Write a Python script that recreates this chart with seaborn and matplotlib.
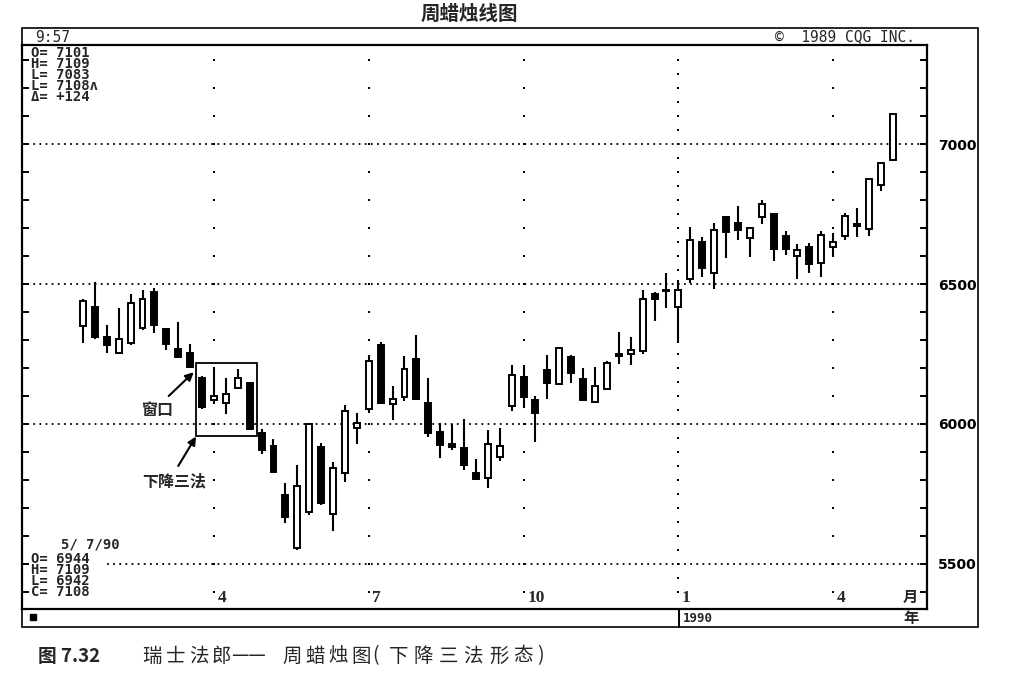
import matplotlib
matplotlib.use("Agg")
import matplotlib.pyplot as plt
import matplotlib.transforms as mtransforms
from matplotlib.patches import Rectangle
from matplotlib.lines import Line2D
import seaborn as sns
import pandas as pd
import numpy as np

# 周线数据 (瑞士法郎), 1989-01 ~ 1990-05
opens = [6350, 6417, 6312, 6255, 6288, 6342, 6473, 6338, 6267, 6252,
         6163, 6085, 6076, 6128, 6148, 5967, 5921, 5746, 5556, 5687,
         5919, 5679, 5824, 5985, 6052, 6282, 6072, 6095, 6231, 6074,
         5973, 5929, 5913, 5824, 5806, 5881, 6064, 6169, 6086, 6193,
         6143, 6240, 6160, 6080, 6124, 6248, 6250, 6262, 6464, 6478,
         6419, 6517, 6651, 6538, 6738, 6717, 6663, 6738, 6750, 6671,
         6600, 6631, 6574, 6631, 6671, 6709, 6695, 6854, 6944]
highs = [6445, 6508, 6354, 6413, 6464, 6479, 6485, 6340, 6365, 6286,
         6170, 6199, 6163, 6195, 6150, 5981, 5946, 5788, 5854, 6005,
         5933, 5865, 6068, 6038, 6246, 6294, 6136, 6243, 6318, 6163,
         6005, 6000, 6017, 5874, 5979, 5985, 6211, 6211, 6100, 6246,
         6274, 6245, 6199, 6203, 6226, 6330, 6312, 6479, 6473, 6538,
         6514, 6705, 6667, 6719, 6742, 6779, 6705, 6802, 6755, 6690,
         6643, 6645, 6690, 6681, 6755, 6770, 6878, 6935, 7109]
lows = [6290, 6305, 6255, 6252, 6282, 6335, 6324, 6264, 6236, 6199,
        6052, 6071, 6036, 6125, 5980, 5893, 5828, 5648, 5550, 5675,
        5712, 5619, 5794, 5929, 6040, 6070, 6014, 6083, 6085, 5955,
        5877, 5907, 5836, 5800, 5770, 5869, 6048, 6056, 5937, 6088,
        6140, 6145, 6083, 6078, 6120, 6214, 6211, 6250, 6369, 6413,
        6288, 6505, 6524, 6481, 6592, 6657, 6598, 6714, 6583, 6604,
        6517, 6538, 6524, 6600, 6657, 6669, 6671, 6833, 6942]
closes = [6440, 6312, 6282, 6304, 6431, 6445, 6354, 6286, 6238, 6205,
          6060, 6100, 6107, 6163, 5981, 5907, 5830, 5669, 5779, 6000,
          5719, 5842, 6048, 6005, 6226, 6074, 6088, 6195, 6088, 5969,
          5925, 5917, 5854, 5802, 5927, 5921, 6175, 6098, 6038, 6148,
          6270, 6181, 6086, 6136, 6219, 6244, 6264, 6445, 6445, 6474,
          6479, 6657, 6556, 6693, 6687, 6693, 6701, 6786, 6624, 6624,
          6621, 6571, 6675, 6651, 6743, 6713, 6874, 6931, 7108]

month_labels = ['4', '7', '10', '1', '4']
month_weeks = [11, 24, 37, 50, 63]
year_week = 50
price_levels = [5500, 6000, 6500, 7000]
tick_levels = list(range(5400, 7301, 100))

top_info = ['O= 7101', 'H= 7109', 'L= 7083', 'L= 7108ʌ', 'Δ= +124']
last_date = '5/ 7/90'
last_info = ['O= 6944', 'H= 7109', 'L= 6942', 'C= 7108']

sns.set_style('white')
plt.rcParams['font.family'] = ['DejaVu Sans', 'Noto Sans CJK SC']
cjk = ['Noto Sans CJK SC', 'DejaVu Sans']
mono = ['DejaVu Sans Mono']

W, H = 1013, 682
fig = plt.figure(figsize=(W / 100, H / 100), dpi=100)


def fx(x):
    return x / W


def fy(y):
    return 1 - y / H


ax = fig.add_axes([fx(22), fy(609), (927 - 22) / W, (609 - 45) / H])

df = pd.DataFrame({'o': opens, 'h': highs, 'l': lows, 'c': closes})
df['week'] = np.arange(len(df))
df['up'] = df['c'] >= df['o']

# 影线 + 实体
ax.vlines(df['week'], df['l'], df['h'], color='black', lw=1.5, zorder=2)
body = (df['c'] - df['o']).abs().clip(lower=6)
bottom = df[['o', 'c']].min(axis=1)
ax.bar(df['week'], body, bottom=bottom, width=0.5,
       color=np.where(df['up'], 'white', 'black'),
       edgecolor='black', linewidth=1.4, zorder=3)

# 月份竖向点线
rows = []
for w in month_weeks:
    step = 50 if w == year_week else 100
    for p in range(5400, 7301, step):
        rows.append((w, p))
dots = pd.DataFrame(rows, columns=['week', 'price'])
sns.scatterplot(data=dots, x='week', y='price', ax=ax, s=4, color='black',
                marker='s', linewidth=0, legend=False, zorder=1)

# 水平点线
for p in price_levels:
    xmin = 2 if p == 5500 else -5.2
    ax.hlines(p, xmin, 71, colors='black', lw=1.3,
              linestyles=(0, (1, 2.4)), zorder=1)

ax.set_xlim(-5.12, 70.88)
ax.set_ylim(5339, 7354)
ax.set_xlabel('')
ax.set_ylabel('')
ax.set_xticks([])
ax.set_yticks(tick_levels)
ax.set_yticklabels([str(p) if p in price_levels else '' for p in tick_levels])
ax.tick_params(axis='y', direction='in', length=5, width=1.4, colors='black',
               left=True, right=True, labelleft=False, labelright=True,
               pad=8, labelsize=10)
for lbl in ax.get_yticklabels():
    lbl.set_fontweight('bold')
for s in ax.spines.values():
    s.set_linewidth(1.6)
    s.set_color('black')

trans = mtransforms.blended_transform_factory(ax.transData, ax.transAxes)
for w, m in zip(month_weeks, month_labels):
    ax.text(w + 0.3, 0.02, m, transform=trans, ha='left', va='center',
            fontsize=12.5, fontweight='bold', family='Liberation Serif')

# 下降三法 方框 + 标注
ax.add_patch(Rectangle((9.49, 5958), 14.61 - 9.49, 6218 - 5958,
                       fill=False, lw=1.3, edgecolor='black', zorder=4))
ax.annotate('', xy=(9.3, 6185), xytext=(7.2, 6100),
            arrowprops=dict(arrowstyle='-|>', lw=1.5, color='black',
                            mutation_scale=12, shrinkA=0, shrinkB=0))
ax.text(6.2, 6050, '窗口', ha='center', va='center', fontsize=11.5,
        fontweight='bold', family=cjk)
ax.annotate('', xy=(9.49, 5955), xytext=(8.0, 5850),
            arrowprops=dict(arrowstyle='-|>', lw=1.5, color='black',
                            mutation_scale=12, shrinkA=0, shrinkB=0))
ax.text(7.7, 5796, '下降三法', ha='center', va='center', fontsize=11.5,
        fontweight='bold', family=cjk)

# 外框、顶部信息栏、底部栏
fig.add_artist(Rectangle((fx(22), fy(627)), (978 - 22) / W, (627 - 28) / H,
                         transform=fig.transFigure, fill=False, lw=1.2,
                         edgecolor='black'))
fig.add_artist(Line2D([fx(679), fx(679)], [fy(609), fy(627)],
                      transform=fig.transFigure, color='black', lw=1.4))
fig.add_artist(Rectangle((fx(30), fy(620)), 6 / W, 6 / H,
                         transform=fig.transFigure, color='black'))

fig.text(fx(35), fy(37), '9:57', fontsize=10.5, family=mono, va='center')
fig.text(fx(915), fy(37), '©  1989 CQG INC.', fontsize=10.5, family=mono,
         va='center', ha='right')

# 左上 / 左下 OHLC 信息
fig.text(fx(31), fy(46), '\n'.join(top_info), fontsize=10, family=mono,
         fontweight='bold', va='top', linespacing=0.72)
fig.text(fx(61), fy(545), last_date, fontsize=10, family=mono,
         fontweight='bold', va='center')
fig.text(fx(31), fy(552), '\n'.join(last_info), fontsize=10, family=mono,
         fontweight='bold', va='top', linespacing=0.72)

fig.text(fx(910), fy(597), '月', fontsize=11, fontweight='bold', family=cjk,
         ha='center', va='center')
fig.text(fx(911), fy(618), '年', fontsize=11, fontweight='bold', family=cjk,
         ha='center', va='center')
fig.text(fx(683), fy(618), '1990', fontsize=9, fontweight='bold',
         family=mono, va='center')

fig.text(fx(469), fy(14), '周蜡烛线图', ha='center', va='center', fontsize=14,
         fontweight='bold', family=cjk)

# 图注 (原图字距较宽, 逐字排)
fig.text(fx(38), fy(656), '图 7.32', fontsize=13.5, fontweight='bold',
         family=cjk, va='center')
caption = [('瑞', 142), ('士', 166), ('法', 189), ('郎', 212), ('——', 231),
           ('周', 282), ('蜡', 305), ('烛', 328), ('图', 351), ('(', 372),
           ('下', 389), ('降', 413), ('三', 439), ('法', 463), ('形', 489),
           ('态', 513), (')', 537)]
for ch, x0 in caption:
    fig.text(fx(x0), fy(656), ch, fontsize=14, family=cjk, va='center')

fig.savefig('out.png', dpi=100)
